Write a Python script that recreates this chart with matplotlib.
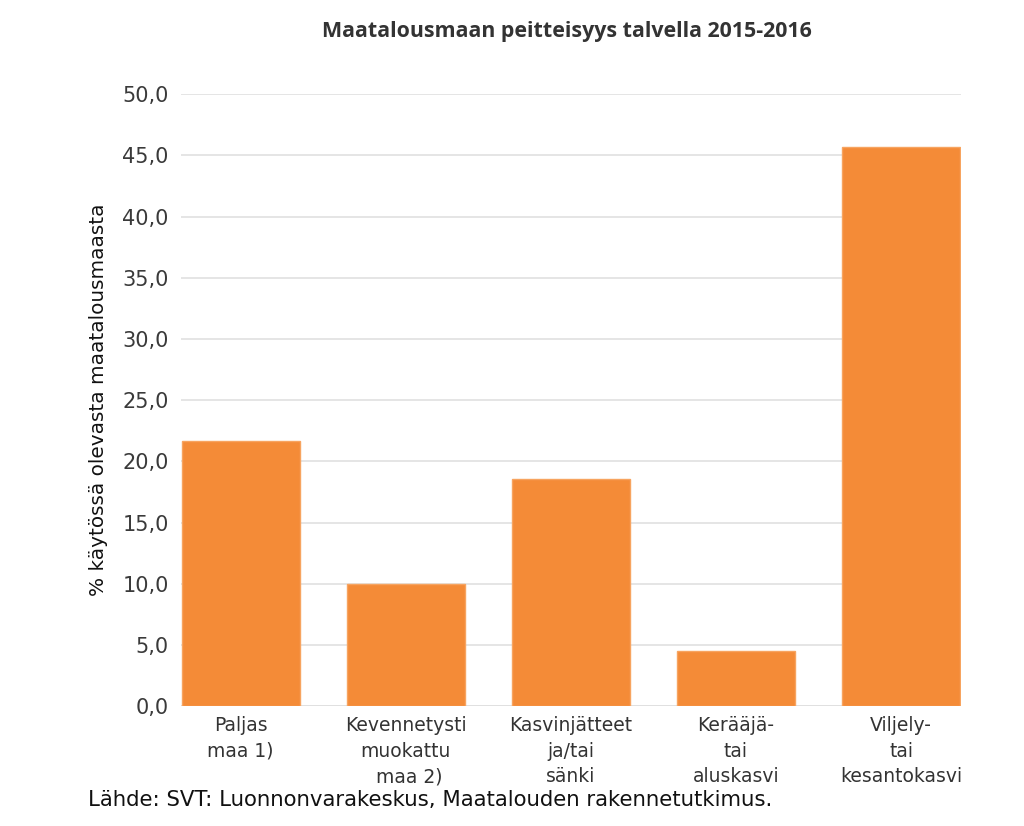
import matplotlib
import matplotlib.pyplot as plt

matplotlib.use('Agg')
plt.rcParams['font.family'] = ['DejaVu Sans']

categories = ['Paljas\nmaa 1)', 'Kevennetysti\nmuokattu\n maa 2)', 'Kasvinjätteet\nja/tai\nsänki',
              'Kerääjä-\ntai\naluskasvi', 'Viljely-\ntai\nkesantokasvi']
values = [21.7, 10.0, 18.6, 4.5, 45.7]
yticks = [0, 5, 10, 15, 20, 25, 30, 35, 40, 45, 50]

fig = plt.figure(figsize=(10.24, 8.26), dpi=100)
ax = fig.add_axes([0.177, 0.145, 0.761, 0.741])

x = range(len(values))
ax.bar(x, values, width=0.715, color='#f48b37', edgecolor='#f7a460', linewidth=1, zorder=3)

ax.set_xlim(-0.36, len(values) - 1 + 0.36)
ax.set_ylim(0, 50)
ax.set_yticks(yticks)
ax.yaxis.set_major_formatter(matplotlib.ticker.FuncFormatter(lambda v, p: ('%.1f' % v).replace('.', ',')))
ax.grid(axis='y', color='#e0e0e0', linewidth=1.2, zorder=0)
ax.set_xticks(list(x))
ax.set_xticklabels(categories, fontsize=13.5, color='#333333', linespacing=1.45, va='top')
ax.tick_params(axis='y', labelsize=15, colors='#3a3a3a', length=0, pad=9)
ax.tick_params(axis='x', length=0, pad=7)
for s in ax.spines.values():
    s.set_visible(False)
ax.axhline(0, color='#e0e0e0', linewidth=1.2, zorder=0)

ax.set_ylabel('% käytössä olevasta maatalousmaasta', fontsize=14.4, color='#111111', labelpad=10)
fig.text(0.554, 0.962, 'Maatalousmaan peitteisyys talvella 2015-2016', ha='center', va='center',
         fontsize=15.4, fontweight='bold', family='Open Sans', color='#333333')
fig.text(0.086, 0.031, 'Lähde: SVT: Luonnonvarakeskus, Maatalouden rakennetutkimus.',
         ha='left', va='center', fontsize=15.3, color='#111111')

fig.savefig('out.png', dpi=100)
